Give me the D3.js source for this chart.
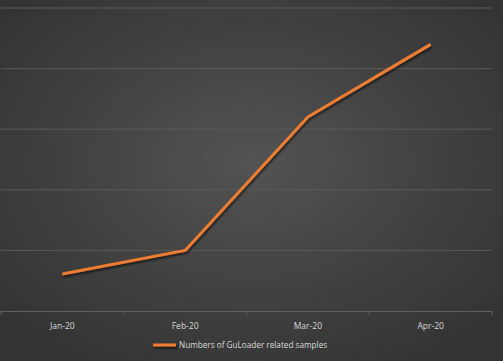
<!DOCTYPE html>
<html><head><meta charset="utf-8">
<script src="https://cdn.jsdelivr.net/npm/d3@7"></script>
<style>html,body{margin:0;padding:0;background:#3a3a3a;}svg{display:block;}</style>
</head><body>
<script>
const categories = ["Jan-20", "Feb-20", "Mar-20", "Apr-20"];
const seriesName = "Numbers of GuLoader related samples";
const values = [61, 100, 320, 440];
const yTicks = [0, 100, 200, 300, 400, 500];

const W = 503, H = 361;
const m = {left: 1, right: 11, top: 8, bottom: 50};
const svg = d3.select("body").append("svg").attr("width", W).attr("height", H);
const defs = svg.append("defs");
const rg = defs.append("radialGradient").attr("id", "bg").attr("cx", "50%").attr("cy", "45%").attr("r", "65%");
rg.append("stop").attr("offset", "0%").attr("stop-color", "#535353");
rg.append("stop").attr("offset", "100%").attr("stop-color", "#333333");
const f = defs.append("filter").attr("id", "sh").attr("filterUnits", "userSpaceOnUse")
  .attr("x", 0).attr("y", 0).attr("width", W).attr("height", H);
f.append("feDropShadow").attr("dx", 1).attr("dy", 2).attr("stdDeviation", 1.2).attr("flood-color", "#000").attr("flood-opacity", 0.6);
svg.append("rect").attr("width", W).attr("height", H).attr("fill", "url(#bg)");

const x = d3.scaleBand().domain(categories).range([m.left, W - m.right]);
const y = d3.scaleLinear().domain([0, 500]).range([H - m.bottom, m.top]);

svg.append("g").selectAll("line").data(yTicks.slice(1)).join("line")
  .attr("x1", m.left).attr("x2", W - m.right)
  .attr("y1", d => y(d)).attr("y2", d => y(d))
  .attr("stroke", "#5a5a5a").attr("stroke-width", 1);

const xAxis = svg.append("g").attr("transform", `translate(0,${y(0)})`)
  .call(d3.axisBottom(x).tickSize(0).tickPadding(12));
xAxis.select(".domain").attr("stroke", "#606060");
xAxis.selectAll("text").attr("fill", "#d9d9d9").attr("font-family", "'Open Sans', sans-serif").attr("font-size", 8.5);
svg.append("g").selectAll("line").data(d3.range(categories.length + 1)).join("line")
  .attr("x1", i => m.left + i * x.step()).attr("x2", i => m.left + i * x.step())
  .attr("y1", y(0)).attr("y2", y(0) + 4).attr("stroke", "#606060");

const line = d3.line().x((d, i) => x(categories[i]) + x.bandwidth() / 2).y(d => y(d));
svg.append("path").datum(values).attr("d", line)
  .attr("fill", "none").attr("stroke", "#ED7D31").attr("stroke-width", 3)
  .attr("stroke-linejoin", "round").attr("filter", "url(#sh)");

const lg = svg.append("g");
lg.append("line").attr("x1", 153).attr("x2", 176).attr("y1", 345).attr("y2", 345)
  .attr("stroke", "#ED7D31").attr("stroke-width", 3).attr("filter", "url(#sh)");
lg.append("text").attr("x", 179).attr("y", 348.2).text(seriesName)
  .attr("fill", "#d9d9d9").attr("font-family", "'Open Sans', sans-serif").attr("font-size", 8.2);
</script>
</body></html>
